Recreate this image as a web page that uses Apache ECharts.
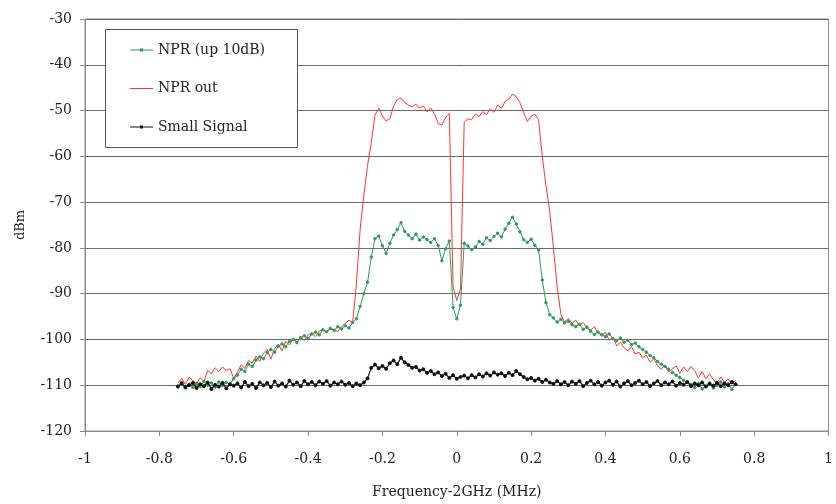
<!DOCTYPE html>
<html>
<head>
<meta charset="utf-8">
<script src="https://cdn.jsdelivr.net/npm/echarts@6/dist/echarts.min.js"></script>
<style>html,body{margin:0;padding:0;background:#fff}#c{width:836px;height:504px}</style>
</head>
<body>
<div id="c"></div>
<script>
var freq = [-0.75,-0.74,-0.73,-0.72,-0.71,-0.70,-0.69,-0.68,-0.67,-0.66,-0.65,-0.64,-0.63,-0.62,-0.61,-0.60,-0.59,-0.58,-0.57,-0.56,-0.55,-0.54,-0.53,-0.52,-0.51,-0.50,-0.49,-0.48,-0.47,-0.46,-0.45,-0.44,-0.43,-0.42,-0.41,-0.40,-0.39,-0.38,-0.37,-0.36,-0.35,-0.34,-0.33,-0.32,-0.31,-0.30,-0.29,-0.28,-0.27,-0.26,-0.25,-0.24,-0.23,-0.22,-0.21,-0.20,-0.19,-0.18,-0.17,-0.16,-0.15,-0.14,-0.13,-0.12,-0.11,-0.10,-0.09,-0.08,-0.07,-0.06,-0.05,-0.04,-0.03,-0.02,-0.01,0.00,0.01,0.02,0.03,0.04,0.05,0.06,0.07,0.08,0.09,0.10,0.11,0.12,0.13,0.14,0.15,0.16,0.17,0.18,0.19,0.20,0.21,0.22,0.23,0.24,0.25,0.26,0.27,0.28,0.29,0.30,0.31,0.32,0.33,0.34,0.35,0.36,0.37,0.38,0.39,0.40,0.41,0.42,0.43,0.44,0.45,0.46,0.47,0.48,0.49,0.50,0.51,0.52,0.53,0.54,0.55,0.56,0.57,0.58,0.59,0.60,0.61,0.62,0.63,0.64,0.65,0.66,0.67,0.68,0.69,0.70,0.71,0.72,0.73,0.74,0.75];

var nprUp10 = [-110.2,-109.4,-110.6,-109.8,-110.5,-109.6,-110.3,-109.2,-110.0,-109.5,-110.4,-109.3,-110.1,-109.4,-109.8,-108.6,-107.8,-106.5,-107.0,-105.4,-105.9,-104.5,-103.8,-104.2,-102.9,-102.2,-102.8,-101.5,-101.0,-101.6,-100.4,-100.0,-100.7,-99.6,-99.2,-99.8,-98.8,-98.4,-99.0,-97.9,-98.3,-97.6,-98.0,-97.2,-97.7,-97.0,-97.5,-96.3,-95.5,-92.8,-90.0,-87.5,-82.0,-78.0,-77.4,-79.5,-81.2,-79.0,-77.2,-76.0,-74.5,-76.4,-77.2,-78.0,-77.0,-78.3,-77.6,-78.2,-78.8,-78.0,-79.5,-82.8,-80.2,-78.5,-93.0,-95.5,-92.5,-79.0,-79.6,-80.4,-79.8,-78.6,-79.2,-77.8,-78.4,-77.5,-76.8,-77.6,-75.9,-74.6,-73.3,-74.8,-76.5,-78.2,-78.8,-78.1,-79.4,-80.5,-87.0,-92.0,-94.6,-95.3,-96.2,-95.6,-96.4,-96.0,-96.8,-97.2,-96.7,-97.8,-97.3,-98.2,-98.9,-98.4,-99.0,-99.4,-98.8,-99.8,-100.3,-99.7,-100.6,-100.2,-101.1,-100.8,-101.6,-102.2,-102.8,-103.5,-104.0,-104.8,-105.4,-105.9,-106.5,-107.2,-107.8,-108.3,-108.9,-109.4,-109.8,-110.5,-109.6,-110.8,-110.2,-109.5,-110.6,-110.0,-109.3,-110.4,-109.7,-110.9,-109.8];

var nprOut = [-109.5,-108.5,-109.8,-108.2,-109.0,-109.6,-108.4,-109.2,-106.8,-107.5,-106.2,-107.0,-106.0,-106.8,-106.4,-108.5,-107.2,-105.5,-106.3,-104.6,-105.2,-103.6,-104.8,-103.0,-102.2,-104.3,-102.0,-101.0,-102.5,-100.4,-101.2,-99.8,-100.6,-99.5,-100.2,-99.0,-98.6,-99.4,-98.2,-97.8,-98.5,-97.5,-97.9,-98.3,-97.2,-96.5,-95.8,-96.2,-88.0,-76.0,-68.5,-62.0,-57.0,-51.0,-49.5,-51.2,-52.3,-51.8,-49.0,-47.6,-47.3,-48.2,-48.8,-49.2,-48.6,-49.5,-49.0,-50.3,-49.4,-50.8,-52.8,-53.2,-51.5,-50.6,-88.5,-91.5,-89.0,-52.5,-51.8,-52.0,-50.8,-51.3,-50.2,-50.9,-49.6,-50.4,-48.8,-49.5,-48.0,-47.5,-46.4,-47.0,-48.3,-50.5,-52.4,-51.2,-50.8,-52.0,-60.0,-66.5,-72.0,-80.0,-88.5,-94.5,-96.2,-95.4,-96.5,-95.8,-97.0,-96.3,-97.5,-98.0,-97.2,-98.6,-99.0,-98.4,-100.2,-99.5,-101.4,-100.6,-101.8,-102.5,-101.6,-103.2,-102.8,-104.0,-103.4,-105.0,-104.2,-105.8,-106.5,-105.6,-107.2,-106.4,-105.8,-107.4,-106.0,-107.0,-105.9,-106.8,-108.4,-107.0,-108.6,-107.5,-108.8,-109.5,-108.2,-109.4,-108.6,-109.8,-108.9];

var smallSignal = [-110.3,-109.6,-110.4,-110.0,-109.5,-110.6,-109.8,-110.2,-109.4,-110.8,-109.9,-110.3,-109.5,-110.7,-109.8,-110.1,-109.6,-110.5,-109.3,-110.2,-109.7,-110.6,-109.4,-110.0,-109.5,-110.4,-109.2,-110.1,-109.6,-110.3,-109.0,-109.9,-109.4,-110.2,-109.1,-109.8,-109.3,-110.0,-109.2,-109.7,-109.1,-110.1,-109.4,-109.8,-109.2,-109.9,-109.5,-110.2,-109.6,-110.0,-109.4,-108.5,-106.2,-105.5,-106.3,-105.8,-106.4,-105.2,-104.6,-105.4,-104.0,-105.0,-105.6,-106.2,-106.0,-106.8,-106.5,-107.3,-106.9,-107.6,-107.2,-108.0,-107.5,-108.4,-107.8,-108.6,-108.2,-107.9,-108.5,-107.8,-108.3,-107.6,-108.1,-107.4,-107.9,-107.2,-107.7,-107.4,-108.0,-107.3,-107.8,-106.9,-107.6,-108.2,-108.7,-108.4,-109.0,-108.6,-109.3,-108.8,-109.4,-109.7,-109.1,-109.8,-109.3,-110.0,-109.2,-109.7,-109.1,-110.2,-109.5,-109.0,-109.8,-109.3,-110.1,-109.4,-109.0,-109.9,-109.2,-110.3,-109.6,-109.1,-110.0,-109.5,-109.0,-109.8,-109.3,-110.2,-109.6,-109.1,-110.0,-109.4,-109.8,-109.2,-110.1,-109.5,-109.9,-109.3,-110.2,-109.6,-110.0,-109.4,-110.3,-109.7,-110.1,-109.5,-110.2,-109.6,-110.0,-109.3,-109.8];

var seriesNames = ['NPR (up 10dB)', 'NPR out', 'Small Signal'];
var xTitle = 'Frequency-2GHz (MHz)';
var yTitle = 'dBm';

function pairs(ys) { return freq.map(function (f, i) { return [f, ys[i]]; }); }

var FONT = 'DejaVu Serif';
var ICON_MARK = 'path://M0,4 L10,4 L10,3 L13,3 L13,4 L23,4 L23,5 L13,5 L13,6 L10,6 L10,5 L0,5 Z';
var ICON_LINE = 'path://M0,0 L23,0 L23,1 L0,1 Z';
var chart = echarts.init(document.getElementById('c'), null, { renderer: 'canvas' });
chart.setOption({
  animation: false,
  backgroundColor: '#ffffff',
  textStyle: { fontFamily: FONT },
  grid: { left: 85, right: 5, top: 19, bottom: 72, show: true, borderColor: '#8c8c8c', borderWidth: 1, backgroundColor: 'transparent' },
  xAxis: {
    type: 'value', min: -1, max: 1, interval: 0.2,
    name: xTitle, nameLocation: 'middle', nameGap: 54,
    nameTextStyle: { fontFamily: FONT, fontSize: 14, color: '#222' },
    axisLine: { show: true, onZero: false, lineStyle: { color: '#8c8c8c', width: 1 } },
    axisTick: { show: true, inside: false, length: 5, lineStyle: { color: '#8c8c8c' } },
    axisLabel: { fontFamily: FONT, fontSize: 14, color: '#222', margin: 21,
      formatter: function (v) { return String(Math.round(v * 10) / 10); } },
    splitLine: { show: false }
  },
  yAxis: {
    type: 'value', min: -120, max: -30, interval: 10,
    name: yTitle, nameLocation: 'middle', nameGap: 58,
    nameTextStyle: { fontFamily: FONT, fontSize: 13, color: '#222' },
    axisLine: { show: true, onZero: false, lineStyle: { color: '#8c8c8c', width: 1 } },
    axisTick: { show: true, inside: false, length: 5, lineStyle: { color: '#8c8c8c' } },
    axisLabel: { fontFamily: FONT, fontSize: 14, color: '#222', margin: 13 },
    splitLine: { show: true, lineStyle: { color: '#6a6a6a', width: 1 } }
  },
  graphic: [{
    type: 'rect', z: 50, silent: true,
    shape: { x: 105.5, y: 29.5, width: 192, height: 118 },
    style: { fill: '#ffffff', stroke: '#555555', lineWidth: 1 }
  }],
  legend: {
    z: 60, orient: 'vertical', left: 130, top: 43, padding: 0,
    itemWidth: 23, itemHeight: 14, itemGap: 24.5,
    textStyle: { fontFamily: FONT, fontSize: 14, color: '#222' },
    data: [
      { name: seriesNames[0], icon: ICON_MARK },
      { name: seriesNames[1], icon: ICON_LINE },
      { name: seriesNames[2], icon: ICON_MARK }
    ]
  },
  series: [
    { name: seriesNames[0], type: 'line', data: pairs(nprUp10), z: 3,
      symbol: 'circle', symbolSize: 2.5, showSymbol: true,
      lineStyle: { color: '#2f9a5c', width: 1 },
      itemStyle: { color: '#2f9a5c', borderColor: '#2f9a5c' } },
    { name: seriesNames[1], type: 'line', data: pairs(nprOut), z: 2,
      symbol: 'none', showSymbol: false,
      lineStyle: { color: '#ff3333', width: 1 },
      itemStyle: { color: '#ff3333' } },
    { name: seriesNames[2], type: 'line', data: pairs(smallSignal), z: 4,
      symbol: 'circle', symbolSize: 3, showSymbol: true,
      lineStyle: { color: '#111111', width: 1.2 },
      itemStyle: { color: '#111111', borderColor: '#111111' } }
  ]
});
</script>
</body>
</html>
